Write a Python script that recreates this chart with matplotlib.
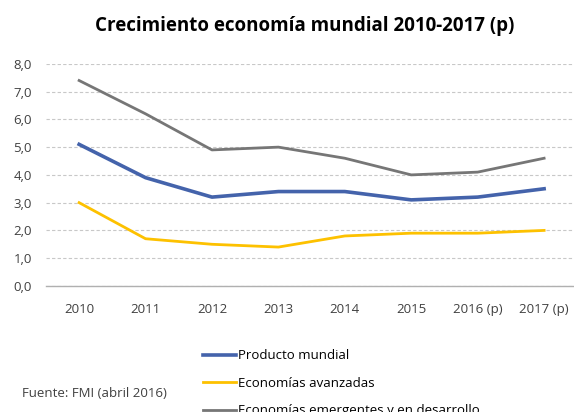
import matplotlib.pyplot as plt

years = ['2010', '2011', '2012', '2013', '2014', '2015', '2016 (p)', '2017 (p)']
producto_mundial = [5.1, 3.9, 3.2, 3.4, 3.4, 3.1, 3.2, 3.5]
avanzadas = [3.0, 1.7, 1.5, 1.4, 1.8, 1.9, 1.9, 2.0]
emergentes = [7.4, 6.2, 4.9, 5.0, 4.6, 4.0, 4.1, 4.6]

plt.rcParams['font.family'] = ['Open Sans', 'DejaVu Sans']

fig = plt.figure(figsize=(5.74, 4.12), dpi=100)
ax = fig.add_axes([0.080, 0.306, 0.92, 0.539])

x = range(len(years))
ax.plot(x, producto_mundial, color='#4463ab', lw=2.6, label='Producto mundial')
ax.plot(x, avanzadas, color='#fdc100', lw=2.0, label='Economías avanzadas')
ax.plot(x, emergentes, color='#767676', lw=2.0, label='Economías emergentes y en desarrollo')

ax.set_xlim(-0.5, 7.45)
ax.set_ylim(0, 8)
ax.set_yticks(range(0, 9))
ax.set_yticklabels([f'{v},0' for v in range(0, 9)], fontsize=9.5, color='#404040')
ax.set_xticks(list(x))
ax.set_xticklabels(years, fontsize=9.5, color='#404040')
ax.tick_params(length=0, pad=12)
ax.tick_params(axis='y', pad=10)
ax.grid(axis='y', color='#c8c8c8', ls=(0, (3, 2)), lw=0.8)
ax.set_axisbelow(True)
for s in ['top', 'right', 'left']:
    ax.spines[s].set_visible(False)
ax.spines['bottom'].set_color('#b0b0b0')
ax.spines['bottom'].set_linewidth(1.0)

fig.text(0.531, 0.937, 'Crecimiento economía mundial 2010-2017 (p)', ha='center', va='center',
         fontsize=13.5, fontweight='bold', color='black')

fig.legend(loc='upper left', bbox_to_anchor=(0.354, 0.152),
           frameon=False, fontsize=9.5, handlelength=2.5, handletextpad=0.1,
           labelspacing=1.1, borderaxespad=0, borderpad=0)

fig.text(0.038, 0.044, 'Fuente: FMI (abril 2016)', fontsize=9.5, color='#404040', va='center')

fig.savefig('out.png', dpi=100)
